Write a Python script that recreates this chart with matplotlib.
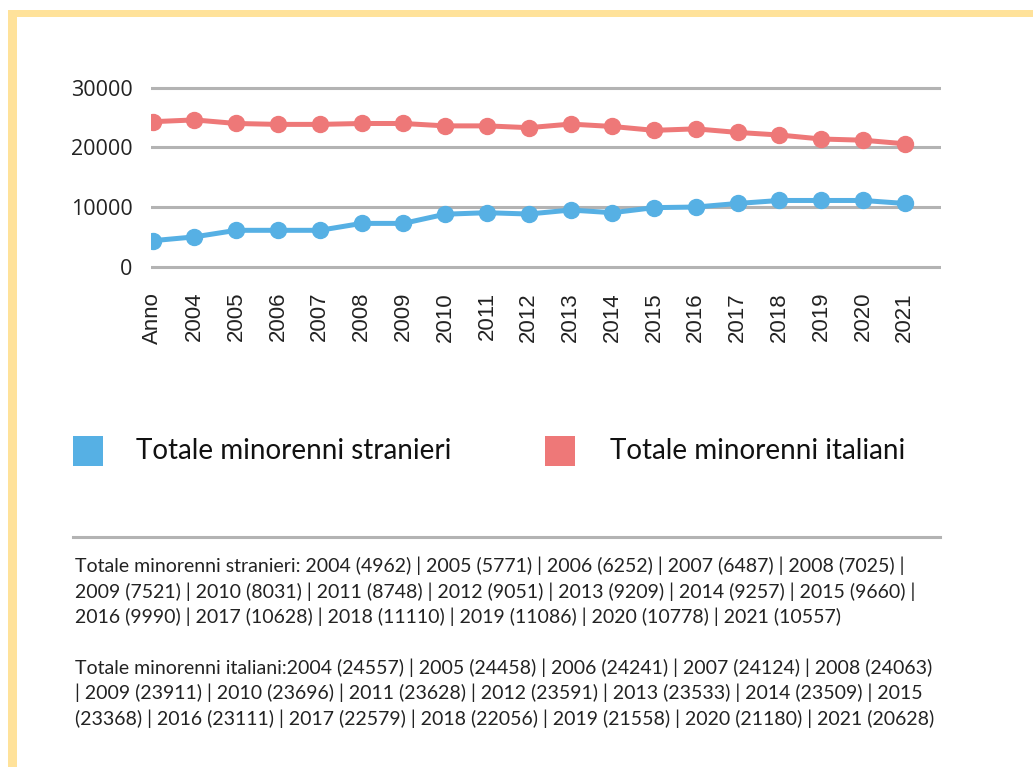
import matplotlib.pyplot as plt
from matplotlib.patches import Rectangle

# categories on the x axis
categories = ['Anno'] + [str(y) for y in range(2004, 2022)]

# values
stranieri = [4360, 5000, 6100, 6100, 6100, 7260, 7260, 8800, 9050, 8830,
             9500, 9050, 9900, 10000, 10600, 11100, 11100, 11100, 10600]
italiani = [24300, 24600, 24000, 23850, 23850, 24000, 24000, 23600, 23600, 23300,
            23900, 23500, 22850, 23100, 22500, 22070, 21400, 21200, 20600]

series_names = ['Totale minorenni stranieri', 'Totale minorenni italiani']
blue = '#56B0E4'
red = '#EE7878'
yellow = '#FFE29A'

note_lines = [
    'Totale minorenni stranieri: 2004 (4962) | 2005 (5771) | 2006 (6252) | 2007 (6487) | 2008 (7025) |',
    '2009 (7521) | 2010 (8031) | 2011 (8748) | 2012 (9051) | 2013 (9209) | 2014 (9257) | 2015 (9660) |',
    '2016 (9990) | 2017 (10628) | 2018 (11110) | 2019 (11086) | 2020 (10778) | 2021 (10557)',
    '',
    'Totale minorenni italiani:2004 (24557) | 2005 (24458) | 2006 (24241) | 2007 (24124) | 2008 (24063)',
    '| 2009 (23911) | 2010 (23696) | 2011 (23628) | 2012 (23591) | 2013 (23533) | 2014 (23509) | 2015',
    '(23368) | 2016 (23111) | 2017 (22579) | 2018 (22056) | 2019 (21558) | 2020 (21180) | 2021 (20628)',
]

W, H = 1033, 767
fig = plt.figure(figsize=(W / 100, H / 100), dpi=100)
fig.patch.set_facecolor('white')

def fx(px):
    return px / W

def fy(py):
    return 1 - py / H

# yellow frame (top and left)
fig.patches.append(Rectangle((fx(8), 0), fx(9), fy(10), transform=fig.transFigure,
                             facecolor=yellow, edgecolor='none', zorder=0))
fig.patches.append(Rectangle((fx(8), fy(17)), 1 - fx(8), 7 / H, transform=fig.transFigure,
                             facecolor=yellow, edgecolor='none', zorder=0))

# main axes
ax = fig.add_axes([fx(150.7), fy(269.7), fx(790), 185.0 / H])
x = list(range(len(categories)))
ax.plot(x, italiani, color=red, lw=3.6, marker='o', ms=11.5, zorder=3)
ax.plot(x, stranieri, color=blue, lw=3.6, marker='o', ms=11.5, zorder=3)

ax.set_xlim(-0.048, 18.86)
ax.set_ylim(-500, 30500)
ax.set_yticks([0, 10000, 20000, 30000])
ax.set_xticks(x)
ax.set_xticklabels(categories, rotation=90, fontsize=16, family='Liberation Sans', color='#222222')
ax.tick_params(axis='x', length=0, pad=16)
ax.tick_params(axis='y', length=0, pad=13, labelsize=15.5, labelcolor='#222222')
for lab in ax.get_yticklabels():
    lab.set_family('Open Sans')
ax.grid(axis='y', color='#B3B3B3', lw=2.2)
ax.set_axisbelow(True)
for s in ax.spines.values():
    s.set_visible(False)

# legend
for i, (name, col) in enumerate(zip(series_names, [blue, red])):
    sx = [73, 545][i]
    tx = [136, 610][i]
    fig.patches.append(Rectangle((fx(sx), fy(466)), fx(30), 30 / H, transform=fig.transFigure,
                                 facecolor=col, edgecolor='none'))
    fig.text(fx(tx), fy(451), name, fontsize=20, family='Lato', color='#111111',
             ha='left', va='center')

# separator
fig.add_artist(plt.Line2D([fx(73), fx(940)], [fy(537), fy(537)], color='#B3B3B3', lw=2.2,
                          transform=fig.transFigure))

# footnote
for i, line in enumerate(note_lines):
    if line:
        fig.text(fx(75), fy(566 + i * 25.4), line, fontsize=14, family='Lato',
                 color='#222222', ha='left', va='center')

fig.savefig('out.png', dpi=100)
